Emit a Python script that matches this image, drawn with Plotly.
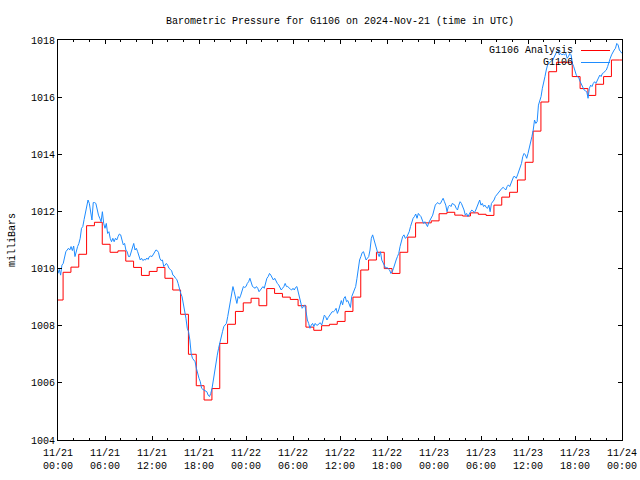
import pandas as pd
import plotly.graph_objects as go

START = "2024-11-21 00:00"

# Analysis (hourly step values, mb); first value holds from 00:00, then one value per hour
analysis_values = [1008.9,
    1009.87, 1010.05, 1010.5, 1011.5, 1011.62, 1010.85, 1010.57, 1010.62, 1010.26, 1010.04,
    1009.76, 1009.9, 1010.04, 1009.66, 1009.25, 1008.4, 1007.0, 1005.9, 1005.4, 1005.8,
    1007.38, 1008.05, 1008.5, 1008.8, 1008.96, 1008.7, 1009.3, 1009.13, 1009.0, 1008.92,
    1008.7, 1007.95, 1007.84, 1008.0, 1008.05, 1008.15, 1008.5, 1009.0, 1009.95, 1010.3,
    1010.57, 1010.0, 1009.83, 1010.57, 1011.1, 1011.6, 1011.6, 1011.67, 1011.92, 1011.97,
    1011.87, 1011.84, 1011.95, 1011.9, 1011.86, 1012.22, 1012.5, 1012.67, 1013.1, 1013.72,
    1014.81, 1015.83, 1016.89, 1017.22, 1017.22, 1016.72, 1016.3, 1016.06, 1016.45, 1016.72,
    1017.3, 1017.3]
analysis_step_minute = 39  # steps occur at HH:39

# Observed station pressure, every 10 minutes from 00:00 (mb)
obs_values = [
    1009.83, 1009.97, 1009.77, 1010.12, 1010.18, 1010.42, 1010.59, 1010.65, 1010.71, 1010.65,
    1010.77, 1010.63, 1010.79, 1010.42, 1010.63, 1010.77, 1010.88, 1011.06, 1011.41, 1011.47,
    1011.72, 1011.99, 1012.17, 1012.4, 1012.28, 1012.05, 1011.7, 1012.31, 1012.31, 1012.28,
    1011.99, 1011.87, 1011.76, 1011.64, 1011.99, 1011.58, 1011.41, 1011.58, 1011.23, 1011.29,
    1011.06, 1010.94, 1011.06, 1010.94, 1011.06, 1011.0, 1011.12, 1011.21, 1011.18, 1011.0,
    1010.83, 1010.88, 1010.65, 1010.59, 1010.42, 1010.42, 1010.59, 1010.71, 1010.88, 1010.65,
    1010.71, 1010.59, 1010.42, 1010.3, 1010.36, 1010.28, 1010.32, 1010.3, 1010.37, 1010.32,
    1010.42, 1010.44, 1010.42, 1010.51, 1010.59, 1010.65, 1010.63, 1010.56, 1010.36, 1010.28,
    1010.3, 1010.07, 1010.12, 1010.18, 1010.12, 1010.01, 1009.97, 1009.93, 1009.77, 1009.74,
    1009.66, 1009.62, 1009.48, 1009.27, 1009.13, 1009.02, 1008.78, 1008.55, 1008.26, 1007.91,
    1007.79, 1007.5,
    1007.03, 1006.86, 1006.8, 1006.74, 1006.51, 1006.28, 1006.16, 1006.04, 1005.81, 1005.77,
    1005.75, 1005.73, 1005.69, 1005.57, 1005.52, 1005.63, 1005.81, 1006.1, 1006.45, 1006.74,
    1006.97, 1007.21, 1007.44, 1007.62, 1007.79, 1007.97, 1008.02, 1008.08, 1008.32, 1008.55,
    1008.9, 1009.13, 1009.37, 1009.19, 1009.02, 1008.78, 1009.02, 1008.96, 1009.07, 1009.25,
    1009.37, 1009.34, 1009.37, 1009.48, 1009.54, 1009.66, 1009.48, 1009.37, 1009.34, 1009.31,
    1009.37, 1009.31, 1009.19, 1009.25, 1009.34, 1009.37, 1009.31, 1009.48, 1009.66, 1009.72,
    1009.83, 1009.77, 1009.66, 1009.6, 1009.66, 1009.54, 1009.48, 1009.43, 1009.31, 1009.25,
    1009.31, 1009.37, 1009.48, 1009.37, 1009.37, 1009.31, 1009.28, 1009.25, 1009.31, 1009.25,
    1009.34, 1009.37, 1009.19, 1009.02, 1008.78, 1008.61, 1008.67, 1008.73, 1008.49, 1008.2,
    1008.08, 1007.91, 1008.02, 1008.08, 1007.97, 1008.08, 1008.02, 1008.02, 1008.08, 1008.1,
    1008.02, 1008.2, 1008.37, 1008.32, 1008.2, 1008.29, 1008.37, 1008.43,
    1008.49, 1008.49, 1008.53, 1008.61, 1008.43, 1008.55, 1008.78, 1008.88, 1008.73, 1008.96,
    1009.02, 1008.84, 1008.88, 1008.73, 1008.64, 1009.02, 1009.13, 1009.25, 1009.37, 1009.66,
    1009.95, 1010.3, 1010.42, 1010.56, 1010.59, 1010.42, 1010.3, 1010.36, 1010.42, 1010.65,
    1011.06, 1011.18, 1011.0, 1010.88, 1010.65, 1010.53, 1010.42, 1010.59, 1010.3, 1010.18,
    1010.07, 1010.01, 1010.04, 1010.0, 1009.95, 1009.83, 1009.89, 1010.01, 1010.12, 1010.3,
    1010.42, 1010.53, 1010.77, 1010.94, 1011.12, 1011.18, 1011.06, 1011.09, 1011.18, 1011.29,
    1011.47, 1011.64, 1011.76, 1011.82, 1011.91, 1011.76, 1011.93, 1011.87, 1011.82, 1011.7,
    1011.58, 1011.64, 1011.52, 1011.47, 1011.61, 1011.7, 1011.82, 1011.87, 1012.05, 1012.22,
    1012.28, 1012.31, 1012.26, 1012.28, 1012.38, 1012.46, 1012.34, 1012.22, 1011.99, 1012.17,
    1012.22, 1012.17, 1012.28, 1012.25, 1012.22, 1012.11, 1012.05, 1012.22, 1012.34, 1012.28,
    1012.17, 1012.05, 1011.87, 1011.93, 1011.82, 1011.93, 1011.99, 1012.05,
    1011.99, 1011.96, 1012.05, 1012.17, 1012.28, 1012.4, 1012.22, 1012.28, 1012.17, 1012.22,
    1012.14, 1012.11, 1012.22, 1011.99, 1012.28, 1012.34, 1012.4, 1012.52, 1012.57, 1012.63,
    1012.69, 1012.75, 1012.81, 1012.84, 1012.8, 1012.75, 1012.87, 1012.93, 1012.87, 1012.98,
    1013.1, 1013.22, 1013.22, 1013.16, 1013.28, 1013.39, 1013.51, 1013.68, 1013.92, 1014.03,
    1013.98, 1013.86, 1014.03, 1014.21, 1014.38, 1014.62, 1014.85, 1015.2, 1015.08, 1015.14,
    1015.72, 1015.84, 1016.02, 1016.31, 1016.48, 1016.72, 1016.95, 1017.13, 1017.18, 1017.24,
    1017.27, 1017.3, 1017.42, 1017.48, 1017.59, 1017.65, 1017.48, 1017.53, 1017.48, 1017.51,
    1017.48, 1017.53, 1017.36, 1017.42, 1017.53, 1017.48, 1017.18, 1017.07, 1016.89, 1016.77,
    1016.72, 1016.66, 1016.54, 1016.42, 1016.37, 1016.25, 1016.22, 1016.19, 1015.96, 1016.31,
    1016.42, 1016.37, 1016.48, 1016.54, 1016.48, 1016.6, 1016.66, 1016.77, 1016.72, 1016.83,
    1016.86, 1016.89, 1016.95, 1017.07, 1017.24, 1017.36, 1017.48, 1017.59, 1017.65, 1017.71,
    1017.88, 1017.83, 1017.65, 1017.59, 1017.53,
]

tick_labels = ["11/21<br>00:00", "11/21<br>06:00", "11/21<br>12:00", "11/21<br>18:00",
               "11/22<br>00:00", "11/22<br>06:00", "11/22<br>12:00", "11/22<br>18:00",
               "11/23<br>00:00", "11/23<br>06:00", "11/23<br>12:00", "11/23<br>18:00",
               "11/24<br>00:00"]
y_ticks = [1004, 1006, 1008, 1010, 1012, 1014, 1016, 1018]

start = pd.Timestamp(START)
end = start + pd.Timedelta(hours=72)
obs_times = pd.date_range(start, periods=len(obs_values), freq="10min")
an_times = [start] + [start + pd.Timedelta(minutes=60 * k + analysis_step_minute)
                      for k in range(len(analysis_values) - 1)] + [end]
an_vals = analysis_values + [analysis_values[-1]]
tick_vals = [start + pd.Timedelta(hours=6 * i) for i in range(len(tick_labels))]

FONT = "Liberation Mono"
fig = go.Figure()
fig.add_trace(go.Scatter(x=an_times, y=an_vals, mode="lines", name="G1106 Analysis",
                         line=dict(color="#ff0000", width=1, shape="hv")))
fig.add_trace(go.Scatter(x=obs_times, y=obs_values, mode="lines", name="G1106",
                         line=dict(color="#1e8cff", width=1)))

fig.update_layout(
    width=640, height=480, showlegend=False,
    margin=dict(l=58, r=18, t=40, b=40, autoexpand=False),
    paper_bgcolor="white", plot_bgcolor="white",
    font=dict(family=FONT, size=10, color="black"),
    title=dict(text="Barometric Pressure for G1106 on 2024-Nov-21 (time in UTC)",
               x=340 / 640, xanchor="center", y=1 - 20 / 480, yanchor="middle",
               font=dict(family=FONT, size=10, color="black")),
)
fig.update_xaxes(range=[start, end], tickvals=tick_vals, ticktext=tick_labels,
                 automargin=False, ticklabelstandoff=3,
                 ticks="inside", ticklen=4, tickcolor="black", showgrid=False,
                 zeroline=False, showline=True, linecolor="black", linewidth=1,
                 mirror="allticks", tickfont=dict(family=FONT, size=10),
                 minor=dict(ticks="inside", ticklen=2, dtick=2 * 3600 * 1000,
                            tickcolor="black", showgrid=False))
fig.update_yaxes(range=[1004, 1018], tickvals=y_ticks, ticks="inside", ticklen=4,
                 automargin=False,
                 tickcolor="black", showgrid=False, zeroline=False, showline=True,
                 linecolor="black", linewidth=1, mirror="allticks",
                 tickfont=dict(family=FONT, size=10))

# y-axis label
fig.add_annotation(text="milliBars", xref="paper", yref="paper", x=(12 - 58) / 564, y=0.5,
                   textangle=-90, showarrow=False, font=dict(family=FONT, size=10),
                   xanchor="center", yanchor="middle")

# gnuplot-style key (text right-aligned, line sample on the right)
key = [("G1106 Analysis", "#ff0000", 50.5), ("G1106", "#1e8cff", 62.5)]
for label, color, py in key:
    yp = (440 - py) / 400
    fig.add_annotation(text=label, xref="paper", yref="paper", x=(575 - 58) / 564, y=yp,
                       xanchor="right", yanchor="middle", showarrow=False,
                       font=dict(family=FONT, size=10))
    fig.add_shape(type="line", xref="paper", yref="paper",
                  x0=(581 - 58) / 564, x1=(610 - 58) / 564, y0=yp, y1=yp,
                  line=dict(color=color, width=1))

fig.write_html("out.html", config={"displayModeBar": False},
               post_script="document.body.style.margin='0';")
